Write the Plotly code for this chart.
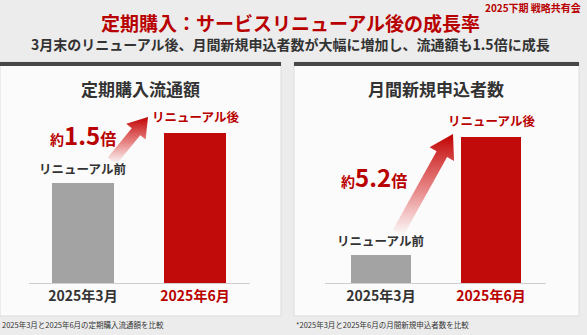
import math
import plotly.graph_objects as go

# ---- data -------------------------------------------------------------
periods = ["2025年3月", "2025年6月"]
phase_labels = ["リニューアル前", "リニューアル後"]

panel_titles = ["定期購入流通額", "月間新規申込者数"]
# indexed values (March = 100)
gmv_index = [100, 150]
signup_index = [100, 520]

footnotes = [
    "2025年3月と2025年6月の定期購入流通額を比較",
    "*2025年3月と2025年6月の月間新規申込者数を比較",
]

title_text = "定期購入：サービスリニューアル後の成長率"
subtitle_text = "3月末のリニューアル後、月間新規申込者数が大幅に増加し、流通額も1.5倍に成長"
corner_text = "2025下期 戦略共有会"

# ---- styling ----------------------------------------------------------
W, H = 587, 335
FONT = "Noto Sans CJK JP"
RED = "#c10a0a"
RED_TXT = "#b80000"
GRAY_BAR = "#a3a3a3"
DARK = "#333333"


def px(x):
    return x / W


def py(y):
    return 1 - y / H


fig = go.Figure()

panels = [
    dict(values=gmv_index, x_dom=(29, 250), x_rng=(-0.482, 1.491), y_top=183 / 1.0,
         card=(0, 281), title_x=140, mult_xy=(83, 134),
         arrow=((112, 161), (148, 117), 11, 25, 19)),
    dict(values=signup_index, x_dom=(325, 546), x_rng=(-0.509, 1.50), y_top=183 / (146 / 520),
         card=(294, 579), title_x=436, mult_xy=(374, 176),
         arrow=((398, 233), (453, 134), 12, 28, 23)),
]

shapes = []
annotations = []

for i, p in enumerate(panels):
    xa = "x" if i == 0 else f"x{i + 1}"
    ya = "y" if i == 0 else f"y{i + 1}"
    vals = p["values"]

    # card + dark top rule
    c0, c1 = p["card"]
    shapes.append(dict(type="rect", xref="paper", yref="paper", layer="below",
                       x0=px(c0), x1=px(c1), y0=py(316), y1=py(62),
                       fillcolor="#fbfbfb", line=dict(color="#dcdcdc", width=1)))
    shapes.append(dict(type="rect", xref="paper", yref="paper", layer="below",
                       x0=px(c0), x1=px(c1), y0=py(66), y1=py(62),
                       fillcolor="#474747", line=dict(width=0)))

    fig.add_trace(go.Bar(
        x=[0, 1], y=vals, width=0.55,
        marker=dict(color=[GRAY_BAR, RED], line=dict(width=0)),
        xaxis=xa, yaxis=ya, showlegend=False, hoverinfo="skip",
    ))

    axis_key = "xaxis" if i == 0 else f"xaxis{i + 1}"
    yaxis_key = "yaxis" if i == 0 else f"yaxis{i + 1}"
    fig.update_layout({
        axis_key: dict(
            domain=[px(p["x_dom"][0]), px(p["x_dom"][1])], range=list(p["x_rng"]),
            anchor=ya, tickvals=[0, 1],
            ticktext=[f"<span style='color:{DARK}'>{periods[0]}</span>",
                      f"<span style='color:{RED_TXT}'>{periods[1]}</span>"],
            tickfont=dict(family=FONT, size=14, weight="bold"),
            showline=True, linecolor="#cfcfcf", linewidth=1,
            showgrid=False, zeroline=False, ticks="", fixedrange=True,
        ),
        yaxis_key: dict(
            domain=[py(283), py(100)], range=[0, p["y_top"]], anchor=xa,
            visible=False, showgrid=False, zeroline=False, fixedrange=True,
        ),
    })

    # panel heading
    annotations.append(dict(xref="paper", yref="paper", x=px(p["title_x"]), y=py(88),
                            text=panel_titles[i], showarrow=False,
                            font=dict(family=FONT, size=17, color=DARK, weight="bold"),
                            xanchor="center", yanchor="middle"))
    # phase labels over the bars
    annotations.append(dict(xref=xa, yref=ya, x=0, y=vals[0], text=phase_labels[0],
                            showarrow=False, yanchor="bottom", yshift=3,
                            font=dict(family=FONT, size=12.5, color=DARK, weight="bold")))
    annotations.append(dict(xref=xa, yref=ya, x=1, y=vals[1], text=phase_labels[1],
                            showarrow=False, yanchor="bottom", yshift=5,
                            font=dict(family=FONT, size=12.5, color=RED_TXT, weight="bold")))

    # growth multiple
    ratio = vals[1] / vals[0]
    mx, my = p["mult_xy"]
    annotations.append(dict(
        xref="paper", yref="paper", x=px(mx), y=py(my), showarrow=False,
        xanchor="center", yanchor="middle",
        text=(f"<span style='font-size:14px'>約</span>"
              f"<span style='font-size:24px'>{ratio:.1f}</span>"
              f"<span style='font-size:16px'>倍</span>"),
        font=dict(family=FONT, size=16, color=RED_TXT, weight="bold"),
    ))

    # gradient arrow (pixel space overlay, y pointing up)
    (tx, ty), (hx, hy), shaft, head_w, head_l = p["arrow"]
    dx, dy = hx - tx, hy - ty
    L = math.hypot(dx, dy)
    ux, uy = dx / L, dy / L
    nx, ny = -uy, ux
    bx, by = hx - ux * head_l, hy - uy * head_l
    pts = [
        (tx + nx * shaft / 2, ty + ny * shaft / 2),
        (bx + nx * shaft / 2, by + ny * shaft / 2),
        (bx + nx * head_w / 2, by + ny * head_w / 2),
        (hx, hy),
        (bx - nx * head_w / 2, by - ny * head_w / 2),
        (bx - nx * shaft / 2, by - ny * shaft / 2),
        (tx - nx * shaft / 2, ty - ny * shaft / 2),
        (tx + nx * shaft / 2, ty + ny * shaft / 2),
    ]
    fig.add_trace(go.Scatter(
        x=[q[0] for q in pts], y=[H - q[1] for q in pts],
        mode="lines", line=dict(width=0), fill="toself",
        fillgradient=dict(type="vertical",
                          colorscale=[[0, "rgba(225,60,60,0.0)"],
                                      [0.45, "rgba(215,40,40,0.55)"],
                                      [1, "rgba(192,0,0,1)"]]),
        xaxis="x3", yaxis="y3", showlegend=False, hoverinfo="skip",
    ))

    # footnote
    annotations.append(dict(xref="paper", yref="paper", x=px(c0), y=py(324),
                            text=footnotes[i], showarrow=False,
                            xanchor="left", yanchor="middle",
                            font=dict(family=FONT, size=7.5, color="#333333")))

# headline texts
annotations += [
    dict(xref="paper", yref="paper", x=px(290), y=py(22), text=title_text,
         showarrow=False, xanchor="center", yanchor="middle",
         font=dict(family=FONT, size=19, color=RED_TXT, weight="bold")),
    dict(xref="paper", yref="paper", x=px(290), y=py(44), text=subtitle_text,
         showarrow=False, xanchor="center", yanchor="middle",
         font=dict(family=FONT, size=14, color=DARK, weight="bold")),
    dict(xref="paper", yref="paper", x=px(583), y=py(0), text=corner_text,
         showarrow=False, xanchor="right", yanchor="top", yshift=2,
         font=dict(family=FONT, size=10, color=RED_TXT, weight="bold")),
]

fig.update_layout(
    width=W, height=H,
    margin=dict(l=0, r=0, t=0, b=0),
    paper_bgcolor="#ececec", plot_bgcolor="rgba(0,0,0,0)",
    xaxis3=dict(domain=[0, 1], range=[0, W], visible=False, fixedrange=True, anchor="y3"),
    yaxis3=dict(domain=[0, 1], range=[0, H], visible=False, fixedrange=True, anchor="x3"),
    shapes=shapes, annotations=annotations,
    bargap=0,
)

fig.write_html("out.html", config={"displayModeBar": False})
